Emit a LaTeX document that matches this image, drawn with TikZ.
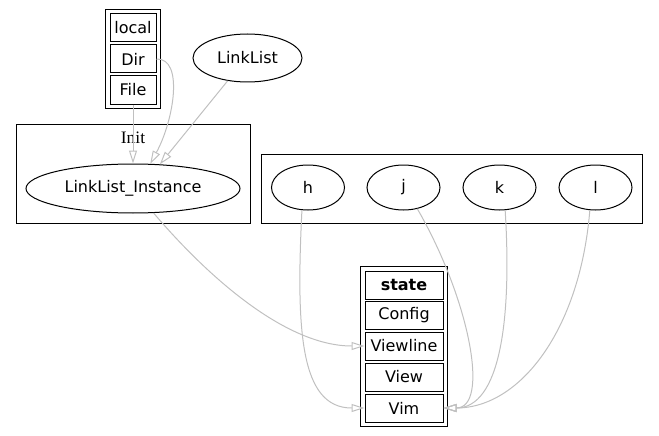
\documentclass[tikz,border=0pt]{standalone}
\usepackage{fontspec}
\setmainfont{DejaVu Sans}
\newfontfamily\clusterfont{Liberation Serif}
\usetikzlibrary{arrows.meta, positioning, fit, shapes.geometric}
\definecolor{edgegray}{RGB}{192,192,192}
\tikzset{
    %Define standard arrow tip
    >={Triangle[open, length=13pt, width=8pt]},
}
\begin{document}
\begin{tikzpicture}[x=1pt, y=-1pt,
    every node/.style = {font=\fontsize{16}{18}\selectfont},
    cell/.style = {draw, line width=1pt, inner sep=0pt,
                   minimum height=28pt},
    rec/.style = {draw, line width=1pt, inner sep=4pt},
    oval/.style = {draw, ellipse, line width=1pt, inner sep=0pt,
                   minimum width=73pt, minimum height=45pt},
    cluster/.style = {draw, line width=1pt, inner sep=0pt},
    dep/.style = {->, draw=edgegray, line width=1pt},
  ]
  \useasboundingbox (0,0) rectangle (659,436);
  % clusters
  \node[cluster, minimum width=234pt, minimum height=99pt] (initbox) at (133,173.5) {};
  \node[font=\clusterfont\fontsize{17.5}{19}\selectfont] (initlbl) at (133,138) {Init};
  \node[cluster, minimum width=381pt, minimum height=69pt] (keysbox) at (451.5,188.5) {};
  % local record
  \node[cell, minimum width=46pt] (local) at (133,28) {local};
  \node[cell, minimum width=46pt] (dir) at (133,59) {Dir};
  \node[cell, minimum width=46pt] (file) at (133,90) {File};
  \node[rec, fit=(local)(file)] (localrec) {};
  \node[oval, minimum width=109pt, minimum height=48pt] (linklist) at (247.5,58) {LinkList};
  \node[oval, minimum width=214pt, minimum height=49pt] (inst) at (133,188.5) {LinkList\_Instance};
  \node[oval] (h) at (308,187.5) {h};
  \node[oval] (j) at (403.5,187.5) {j};
  \node[oval] (k) at (499.5,187.5) {k};
  \node[oval] (l) at (595.5,187.5) {l};
  % state record
  \node[cell, minimum width=78pt] (state) at (404,285) {\textbf{state}};
  \node[cell, minimum width=78pt] (config) at (404,315.5) {Config};
  \node[cell, minimum width=78pt] (viewline) at (404,346) {Viewline};
  \node[cell, minimum width=78pt] (view) at (404,377) {View};
  \node[cell, minimum width=78pt] (vim) at (404,408) {Vim};
  \node[rec, fit=(state)(vim)] (staterec) {};

  \draw[dep] (file) -- (inst.north);
  \draw[dep] (dir.east) .. controls (184,58) and (174,120) .. (inst.55);
  \draw[dep] (linklist.-131) -- (inst.42);
  \draw[dep] (inst.-50) .. controls (215,285) and (290,346) .. (viewline.west);
  \draw[dep] (h.-105) .. controls (296,330) and (300,408) .. (vim.west);
  \draw[dep] (j.-57) .. controls (470,300) and (490,408) .. (vim.east);
  \draw[dep] (k.-76) .. controls (512,320) and (500,408) .. (vim.east);
  \draw[dep] (l.-104) .. controls (580,330) and (520,408) .. (vim.east);
\end{tikzpicture}
\end{document}
